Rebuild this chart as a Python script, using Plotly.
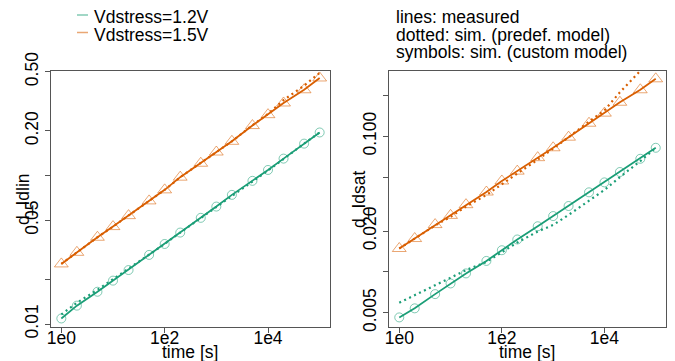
import plotly.graph_objects as go

# ---------------- data ----------------
time_s = [1, 2, 5, 10, 20, 50, 100, 200, 500, 1000, 2000, 5000, 1e4, 2e4, 5e4, 1e5]

# d_Idlin (left panel)
idlin_12_meas = [0.0109, 0.0133, 0.0165, 0.0196, 0.0231, 0.0292, 0.0346, 0.0413, 0.0519, 0.0618,
                 0.0741, 0.0921, 0.109, 0.130, 0.164, 0.195]
idlin_12_pre = [0.0116, 0.0139, 0.0170, 0.0200, 0.0235, 0.0294, 0.0346, 0.0413, 0.0519, 0.0618,
                0.0736, 0.0912, 0.108, 0.130, 0.164, 0.195]
idlin_12_cus = [0.0109, 0.0133, 0.0165, 0.0196, 0.0231, 0.0292, 0.0346, 0.0413, 0.0519, 0.0618,
                0.0741, 0.0921, 0.109, 0.130, 0.164, 0.195]
idlin_15_meas = [0.0254, 0.0304, 0.0384, 0.0453, 0.0537, 0.0675, 0.0801, 0.0975, 0.121, 0.144,
                 0.170, 0.217, 0.257, 0.308, 0.378, 0.454]
idlin_15_pre = [0.0254, 0.0304, 0.0384, 0.0453, 0.0537, 0.0675, 0.0801, 0.0975, 0.121, 0.144,
                0.170, 0.218, 0.260, 0.322, 0.403, 0.491]
idlin_15_cus = [0.0254, 0.0304, 0.0384, 0.0453, 0.0537, 0.0675, 0.0801, 0.0975, 0.121, 0.144,
                0.170, 0.217, 0.257, 0.308, 0.378, 0.454]

# d_Idsat (right panel)
idsat_12_meas = [0.00462, 0.00539, 0.00686, 0.00822, 0.00975, 0.01205, 0.01445, 0.01734, 0.0217, 0.0258,
                 0.0306, 0.0386, 0.0457, 0.0545, 0.0682, 0.0822]
idsat_12_pre = [0.00593, 0.00671, 0.00799, 0.00906, 0.0103, 0.01186, 0.01396, 0.01648, 0.01984, 0.02218,
                0.0263, 0.0333, 0.0402, 0.0500, 0.0656, 0.0822]
idsat_12_cus = [0.00462, 0.00539, 0.00686, 0.00822, 0.00975, 0.01205, 0.01445, 0.01734, 0.0217, 0.0258,
                0.0306, 0.0386, 0.0457, 0.0545, 0.0682, 0.0822]
idsat_15_meas = [0.01488, 0.01762, 0.02233, 0.0261, 0.0313, 0.0388, 0.0468, 0.0553, 0.0695, 0.0822,
                 0.0984, 0.1247, 0.148, 0.178, 0.220, 0.265]
idsat_15_pre = [0.01488, 0.0176, 0.02198, 0.02547, 0.0303, 0.0369, 0.0445, 0.0531, 0.0671, 0.0809,
                0.0984, 0.128, 0.155, 0.211, 0.300, 0.40]
idsat_15_cus = [0.01488, 0.01762, 0.02233, 0.0261, 0.0313, 0.0388, 0.0468, 0.0553, 0.0695, 0.0822,
                0.0984, 0.1247, 0.148, 0.178, 0.220, 0.265]

x_tickvals = [1, 100, 10000]
x_ticktext = ["1e0", "1e2", "1e4"]
left_tickvals = [0.01, 0.02, 0.05, 0.1, 0.2, 0.5]
left_ticktext = ["0.01", "", "0.05", "", "0.20", "0.50"]
right_tickvals = [0.005, 0.01, 0.02, 0.05, 0.1, 0.2]
right_ticktext = ["0.005", "", "0.020", "", "0.100", ""]

legend_labels = ["Vdstress=1.2V", "Vdstress=1.5V"]
note_lines = ["lines: measured", "dotted: sim. (predef. model)", "symbols: sim. (custom model)"]

# ---------------- style ----------------
OFF = 8                      # default page margin of the HTML body
W, H = 675 - OFF, 361 - OFF  # figure size so that it fills the window
GREEN = "#1B9E77"
ORANGE = "#D95F02"
GREEN_A = "rgba(27,158,119,0.55)"
ORANGE_A = "rgba(217,95,2,0.55)"
FONT = "Liberation Sans, Arial, sans-serif"
FS = 17.5
AXC = "#555555"


def px(x):
    return (x - OFF) / W


def py(y):
    return 1 - (y - OFF) / H


fig = go.Figure()

panels = [
    ("x", "y", [(idlin_12_meas, idlin_12_pre, idlin_12_cus, GREEN, GREEN_A, "circle-open", 9),
                (idlin_15_meas, idlin_15_pre, idlin_15_cus, ORANGE, ORANGE_A, "triangle-up-open", 12)]),
    ("x2", "y2", [(idsat_12_meas, idsat_12_pre, idsat_12_cus, GREEN, GREEN_A, "circle-open", 9),
                  (idsat_15_meas, idsat_15_pre, idsat_15_cus, ORANGE, ORANGE_A, "triangle-up-open", 12)]),
]

for xa, ya, series in panels:
    for meas, pre, cus, col, cola, sym, msz in series:
        fig.add_trace(go.Scatter(x=time_s, y=pre, xaxis=xa, yaxis=ya, mode="lines",
                                 line=dict(color=col, width=2.2, dash="2px,3.5px"), showlegend=False))
        fig.add_trace(go.Scatter(x=time_s, y=cus, xaxis=xa, yaxis=ya, mode="markers",
                                 marker=dict(symbol=sym, size=msz, color=cola, line=dict(width=1, color=cola)),
                                 showlegend=False))
        fig.add_trace(go.Scatter(x=time_s, y=meas, xaxis=xa, yaxis=ya, mode="lines",
                                 line=dict(color=col, width=1.8), showlegend=False))

axis_common = dict(showline=True, mirror=True, linecolor=AXC, linewidth=1, ticks="outside",
                   ticklen=5, tickcolor=AXC, showgrid=False, zeroline=False, automargin=False,
                   tickfont=dict(family=FONT, size=FS, color="black"))

TOP, BOT = 70.7, 327
fig.update_layout(
    width=W, height=H, margin=dict(l=0, r=0, t=0, b=0, autoexpand=False),
    plot_bgcolor="white", paper_bgcolor="white", showlegend=False,
    xaxis=dict(type="log", range=[-0.2, 5.2], domain=[px(51), px(330)], anchor="y",
               tickvals=x_tickvals, ticktext=x_ticktext, ticklabelstandoff=-10, **axis_common),
    yaxis=dict(type="log", range=[-2.020, -0.294], domain=[py(BOT), py(TOP)], anchor="x",
               tickvals=left_tickvals, ticktext=left_ticktext, tickangle=-90, **axis_common),
    xaxis2=dict(type="log", range=[-0.2, 5.2], domain=[px(389), px(666)], anchor="y2",
                tickvals=x_tickvals, ticktext=x_ticktext, ticklabelstandoff=-10, **axis_common),
    yaxis2=dict(type="log", range=[-2.406, -0.517], domain=[py(BOT), py(TOP)], anchor="x2",
                tickvals=right_tickvals, ticktext=right_ticktext, tickangle=-90, **axis_common),
)

tfont = dict(family=FONT, size=FS, color="black")
ann = []
# axis titles
ann.append(dict(x=px(190), y=py(352), xref="paper", yref="paper", text="time [s]", showarrow=False,
                font=tfont, xanchor="center", yanchor="middle"))
ann.append(dict(x=px(527), y=py(352), xref="paper", yref="paper", text="time [s]", showarrow=False,
                font=tfont, xanchor="center", yanchor="middle"))
ann.append(dict(x=px(23), y=py(199), xref="paper", yref="paper", text="d_Idlin", showarrow=False,
                font=tfont, textangle=-90, xanchor="center", yanchor="middle"))
ann.append(dict(x=px(359), y=py(199), xref="paper", yref="paper", text="d_Idsat", showarrow=False,
                font=tfont, textangle=-90, xanchor="center", yanchor="middle"))
# legend texts
for i, lab in enumerate(legend_labels):
    ann.append(dict(x=px(92), y=py(17 + 17.5 * i), xref="paper", yref="paper", text=lab, showarrow=False,
                    font=tfont, xanchor="left", yanchor="middle"))
# notes
for i, t in enumerate(note_lines):
    ann.append(dict(x=px(394), y=py(17 + 17.5 * i), xref="paper", yref="paper", text=t, showarrow=False,
                    font=tfont, xanchor="left", yanchor="middle"))
fig.update_layout(annotations=ann)

shapes = []
for i, c in enumerate([GREEN_A, ORANGE_A]):
    yy = py(15 + 17.5 * i)
    shapes.append(dict(type="line", xref="paper", yref="paper", x0=px(77), x1=px(88), y0=yy, y1=yy,
                       line=dict(color=c, width=1.5)))
fig.update_layout(shapes=shapes)

fig.write_html("out.html")
